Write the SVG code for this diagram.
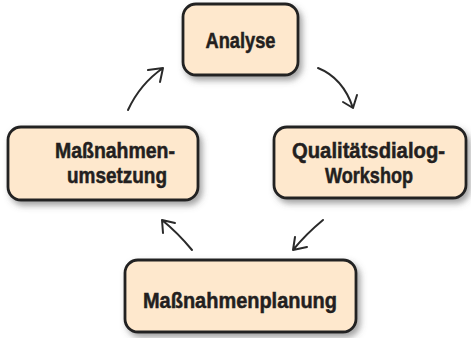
<svg xmlns="http://www.w3.org/2000/svg" width="471" height="338" viewBox="0 0 471 338">
<style>
.box{fill:#fee8cd;stroke:#222;stroke-width:2.8;filter:url(#sh)}
.t{font-family:"Liberation Sans",Arial,sans-serif;font-weight:bold;font-size:22px;fill:#231f20;stroke:#231f20;stroke-width:0.5;text-anchor:middle}
.arr{fill:none;stroke:#2a2a2a;stroke-width:2;stroke-linecap:round;stroke-linejoin:round}
</style>
<defs>
<filter id="sh" x="-10%" y="-10%" width="130%" height="140%">
<feDropShadow dx="3" dy="4" stdDeviation="3" flood-color="#555" flood-opacity="0.55"/>
</filter>
</defs>
<rect width="471" height="338" fill="#fff"/>
<g id="connectors">
<path class="arr" d="M128,110 Q140,84 163,68 M148,70 L163,68 L160,82"/>
<path class="arr" d="M318,68 Q343,78 353,108 M343,102 L353,108 L357,95"/>
<path class="arr" d="M323,220 Q306,234 293,250 M295,237 L293,250 L307,247"/>
<path class="arr" d="M192,250 Q178,233 162,220 M163,233 L162,220 L175,223"/>
</g>
<g id="analyse">
<rect class="box" x="183" y="4" width="115" height="71" rx="13"/>
<text class="t" x="240.5" y="48" textLength="70" lengthAdjust="spacingAndGlyphs">Analyse</text>
</g>
<g id="qualitaetsdialog">
<rect class="box" x="274" y="127" width="192" height="71" rx="13"/>
<text class="t" x="368.5" y="158" textLength="153" lengthAdjust="spacingAndGlyphs">Qualitätsdialog-</text>
<text class="t" x="369" y="183" textLength="88" lengthAdjust="spacingAndGlyphs">Workshop</text>
</g>
<g id="massnahmenplanung">
<rect class="box" x="125" y="260" width="231" height="72" rx="13"/>
<text class="t" x="240" y="308" textLength="194" lengthAdjust="spacingAndGlyphs">Maßnahmenplanung</text>
</g>
<g id="massnahmenumsetzung">
<rect class="box" x="8" y="127" width="190" height="73" rx="13"/>
<text class="t" x="115" y="158" textLength="120" lengthAdjust="spacingAndGlyphs">Maßnahmen-</text>
<text class="t" x="117" y="183" textLength="100" lengthAdjust="spacingAndGlyphs">umsetzung</text>
</g>
</svg>
